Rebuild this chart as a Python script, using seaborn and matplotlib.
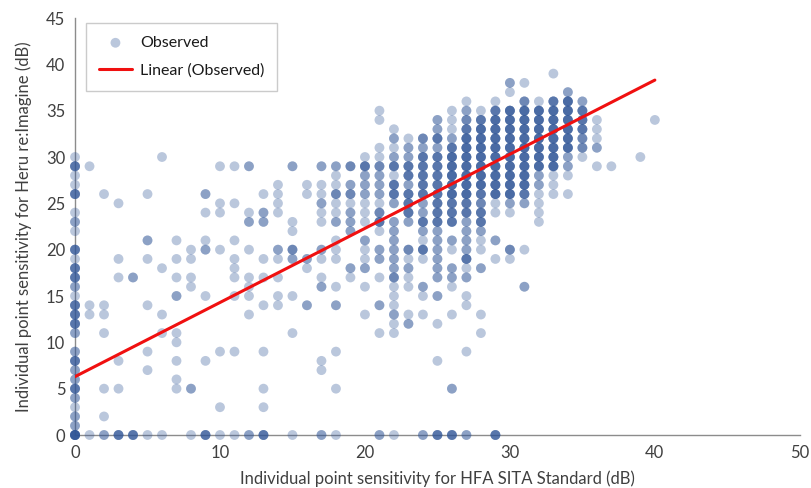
import matplotlib
matplotlib.use("Agg")
import matplotlib.pyplot as plt
import pandas as pd
import seaborn as sns

# HFA sensitivity of each column of dots (dB)
col_x = [0, 1, 2, 3, 4, 5, 6, 7, 8, 9, 10, 11, 12, 13, 14, 15, 16, 17, 18, 19,
         20, 21, 22, 23, 24, 25, 26, 27, 28, 29, 30, 31, 32, 33, 34, 35, 36, 37, 39, 40]

# Heru sensitivity values seen in each column
col_y = [
    [0, 1, 2, 3, 4, 5, 6, 7, 8, 9, 11, 12, 13, 14, 15, 16, 17, 18, 19, 20, 22, 23, 24, 26, 27, 28, 29, 30],
    [0, 13, 14, 29],
    [0, 2, 5, 11, 13, 14, 26],
    [0, 5, 8, 17, 19, 25],
    [0, 17],
    [0, 7, 9, 14, 19, 21, 26],
    [0, 11, 13, 18, 30],
    [5, 6, 8, 10, 11, 15, 17, 19, 21],
    [0, 5, 16, 17, 19, 20],
    [0, 8, 15, 20, 21, 24, 26],
    [0, 3, 9, 20, 24, 25, 29],
    [0, 9, 15, 17, 18, 19, 21, 25, 29],
    [0, 13, 15, 16, 17, 20, 23, 24, 29],
    [0, 3, 5, 9, 14, 17, 19, 23, 24, 26],
    [14, 15, 17, 19, 20, 24, 25, 26, 27],
    [0, 11, 15, 19, 20, 22, 23, 29],
    [14, 18, 19, 26, 27],
    [0, 7, 8, 16, 17, 19, 20, 23, 24, 25, 26, 27, 29],
    [0, 5, 9, 14, 16, 19, 20, 21, 23, 24, 25, 26, 27, 28, 29],
    [17, 18, 22, 23, 24, 25, 26, 27, 29],
    [13, 16, 18, 19, 20, 21, 23, 24, 25, 26, 27, 28, 29, 30],
    [0, 11, 14, 17, 19, 20, 22, 23, 24, 25, 26, 27, 28, 29, 30, 31, 34, 35],
    [0, 11, 12, 13, 14, 15, 16, 17, 18, 19, 20, 21, 22, 23, 25, 26, 27, 28, 29, 30, 31, 32, 33],
    [12, 13, 16, 17, 18, 19, 20, 23, 24, 25, 26, 27, 28, 29, 30, 31, 32],
    [0, 13, 15, 16, 19, 20, 21, 22, 23, 24, 25, 26, 27, 28, 29, 30, 31, 32],
    [0, 8, 12, 15, 17, 18, 19, 20, 21, 22, 23, 24, 25, 26, 27, 28, 29, 30, 31, 32, 33, 34],
    [0, 5, 13, 16, 17, 18, 20, 21, 23, 24, 25, 26, 27, 28, 29, 30, 31, 32, 33, 34, 35],
    [0, 9, 14, 15, 17, 18, 19, 20, 21, 22, 23, 24, 25, 26, 27, 28, 29, 30, 31, 32, 33, 34, 35, 36],
    [11, 13, 18, 20, 21, 22, 23, 24, 25, 26, 27, 28, 29, 30, 31, 32, 33, 34, 35],
    [0, 19, 21, 24, 25, 26, 27, 28, 29, 30, 31, 32, 33, 34, 35, 36],
    [19, 20, 24, 25, 26, 27, 28, 29, 30, 31, 32, 33, 34, 35, 37, 38],
    [16, 20, 25, 26, 27, 28, 29, 30, 31, 32, 33, 34, 35, 36, 38],
    [23, 24, 25, 26, 27, 28, 29, 30, 31, 32, 33, 34, 35, 36],
    [26, 27, 28, 29, 30, 31, 32, 33, 34, 35, 36, 39],
    [26, 28, 29, 30, 31, 32, 33, 34, 35, 36, 37],
    [30, 31, 32, 33, 34, 35, 36],
    [29, 31, 32, 33, 34],
    [29],
    [30],
    [34],
]

# how many observations pile up on each of those dots
col_n = [
    [8, 2, 2, 1, 2, 4, 2, 2, 4, 2, 2, 4, 4, 4, 1, 2, 4, 4, 1, 4, 1, 2, 1, 4, 1, 1, 4, 1],
    [1, 1, 1, 1],
    [2, 1, 1, 1, 1, 1, 1],
    [4, 1, 1, 1, 1, 1],
    [4, 2],
    [1, 1, 1, 1, 1, 2, 1],
    [1, 1, 1, 1, 1],
    [1, 1, 1, 1, 1, 2, 1, 1, 1],
    [1, 2, 1, 1, 1, 1],
    [4, 1, 1, 2, 1, 1, 2],
    [1, 1, 1, 1, 1, 1, 1],
    [1, 1, 1, 1, 1, 1, 1, 1, 1],
    [2, 1, 1, 1, 1, 1, 2, 1, 2],
    [4, 1, 1, 1, 1, 1, 1, 2, 2, 1],
    [1, 1, 1, 1, 2, 1, 1, 1, 1],
    [1, 1, 1, 2, 3, 1, 1, 2],
    [2, 1, 2, 1, 1],
    [2, 1, 1, 2, 1, 1, 2, 1, 1, 2, 1, 1, 2],
    [1, 1, 1, 2, 1, 1, 1, 1, 2, 1, 1, 3, 1, 1, 2],
    [1, 2, 2, 2, 2, 1, 3, 2, 3],
    [1, 1, 2, 1, 1, 2, 1, 1, 1, 2, 2, 2, 4, 1],
    [2, 1, 2, 1, 2, 2, 1, 4, 3, 1, 2, 2, 2, 3, 1, 1, 1, 1],
    [1, 1, 1, 2, 1, 1, 1, 3, 2, 2, 2, 2, 2, 2, 2, 4, 4, 1, 4, 2, 1, 2, 1],
    [2, 1, 1, 1, 2, 1, 3, 2, 4, 4, 4, 2, 4, 4, 2, 2, 1],
    [2, 1, 1, 2, 1, 4, 1, 2, 4, 2, 2, 4, 4, 4, 4, 4, 2, 3],
    [4, 1, 1, 2, 2, 2, 2, 2, 2, 2, 4, 4, 4, 4, 4, 4, 4, 4, 2, 4, 2, 2],
    [4, 2, 1, 1, 2, 2, 1, 2, 4, 4, 4, 5, 5, 5, 5, 5, 4, 2, 1, 1, 1],
    [2, 1, 1, 1, 2, 1, 4, 2, 2, 2, 2, 4, 4, 5, 5, 5, 5, 5, 5, 5, 4, 3, 2, 1],
    [1, 1, 2, 1, 1, 2, 4, 4, 3, 4, 5, 5, 5, 5, 5, 5, 5, 4, 1],
    [4, 1, 2, 1, 1, 5, 5, 5, 5, 5, 5, 5, 5, 5, 4, 1],
    [1, 3, 1, 2, 5, 5, 5, 5, 5, 5, 5, 5, 5, 5, 1, 2],
    [2, 1, 2, 4, 5, 5, 5, 5, 5, 5, 5, 5, 5, 3, 1],
    [1, 1, 1, 1, 2, 2, 5, 5, 5, 5, 5, 5, 5, 1],
    [1, 1, 1, 5, 5, 5, 5, 5, 5, 5, 4, 1],
    [1, 1, 2, 2, 5, 5, 5, 5, 5, 5, 2],
    [1, 3, 3, 4, 4, 4, 2],
    [1, 2, 1, 1, 1],
    [1],
    [1],
    [1],
]

# Excel linear trendline end points
trend_x = [0, 40]
trend_y = [6.3, 38.3]

rows = []
for x, ys, ns in zip(col_x, col_y, col_n):
    for y, n in zip(ys, ns):
        rows.append((x, y, n))
df = pd.DataFrame(rows, columns=["hfa", "heru", "n"])
df = df.loc[df.index.repeat(df["n"])].reset_index(drop=True)

sns.set_theme(style="white")
plt.rcParams["font.family"] = ["Lato", "DejaVu Sans"]

fig = plt.figure(figsize=(8.12, 4.88), dpi=100)
ax = fig.add_axes([0.0924, 0.1086, 0.8926, 0.8545])

sns.scatterplot(data=df, x="hfa", y="heru", color="#2F5597", alpha=0.33, s=50,
                edgecolor="none", linewidth=0, clip_on=False, label="Observed", ax=ax)
sns.lineplot(x=trend_x, y=trend_y, color="#F01010", linewidth=2.2,
             label="Linear (Observed)", ax=ax)

ax.set_xlim(0, 50)
ax.set_ylim(0, 45)
ax.set_xticks([0, 10, 20, 30, 40, 50])
ax.set_yticks([0, 5, 10, 15, 20, 25, 30, 35, 40, 45])
ax.tick_params(length=0, labelsize=12, labelcolor="#404040", pad=7)

for side in ["top", "right"]:
    ax.spines[side].set_visible(False)
for side in ["left", "bottom"]:
    ax.spines[side].set_color("#8C8C8C")
    ax.spines[side].set_linewidth(1.0)
    ax.spines[side].set_zorder(0)

ax.set_xlabel("Individual point sensitivity for HFA SITA Standard (dB)",
              fontsize=12, color="#404040", labelpad=7)
ax.set_ylabel("Individual point sensitivity for Heru re:Imagine (dB)",
              fontsize=12, color="#404040", labelpad=10)

leg = ax.legend(loc="upper left", bbox_to_anchor=(0.015, 0.988), borderaxespad=0,
                fontsize=11.5, frameon=True, fancybox=False, edgecolor="#BFBFBF",
                borderpad=0.8, labelspacing=0.85, handlelength=2.1, handletextpad=0.5)
leg.get_frame().set_linewidth(1.0)
for t in leg.get_texts():
    t.set_color("#1A1A1A")

plt.savefig("out.png", dpi=100)
